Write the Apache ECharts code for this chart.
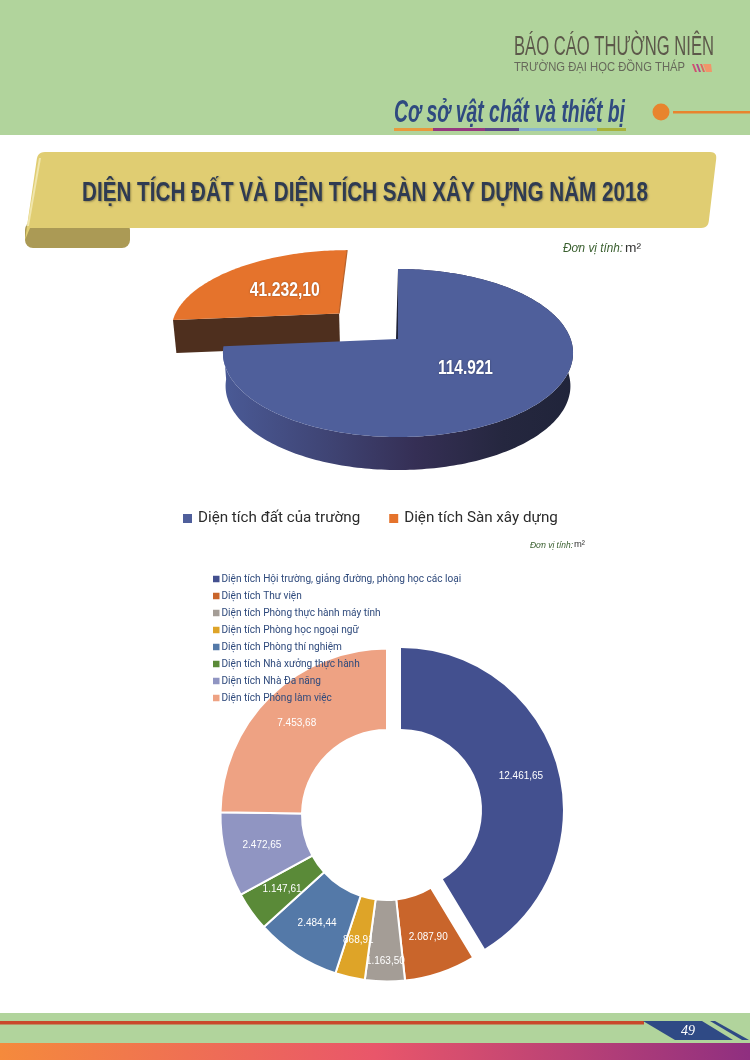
<!DOCTYPE html>
<html><head><meta charset="utf-8">
<style>html,body{margin:0;padding:0;background:#fff}#c{width:750px;height:1060px}</style>
<script src="https://cdn.jsdelivr.net/npm/echarts@6/dist/echarts.min.js"></script>
</head><body><div id="c"></div>
<script>
const landNames = ['Diện tích đất của trường', 'Diện tích Sàn xây dựng'];
const landValues = [114921, 41232.10];
const landLabels = ['114.921', '41.232,10'];
const landColors = ['#4f5f9b', '#e5732c'];

const roomNames = ['Diện tích Hội trường, giảng đường, phòng học các loại', 'Diện tích Thư viện', 'Diện tích Phòng thực hành máy tính', 'Diện tích Phòng học ngoại ngữ', 'Diện tích Phòng thí nghiệm', 'Diện tích Nhà xưởng thực hành', 'Diện tích Nhà Đa năng', 'Diện tích Phòng làm việc'];
const roomValues = [12461.65, 2087.90, 1163.50, 868.91, 2484.44, 1147.61, 2472.65, 7453.68];
const roomLabels = ['12.461,65', '2.087,90', '1.163,50', '868,91', '2.484,44', '1.147,61', '2.472,65', '7.453,68'];
const roomColors = ['#43508f', '#c9652b', '#a49d96', '#dea428', '#5479a8', '#5a8a38', '#9095c2', '#eea283'];

const SANS = '"Liberation Sans",sans-serif';
const total = landValues.reduce((a, b) => a + b, 0);

const mctx = document.createElement('canvas').getContext('2d');
function fitScale(t, font, width) { mctx.font = font; return width / mctx.measureText(t).width; }

// perspective projection of a tilted unit disc
const P = {x0: 398, y0: 339, A: 172.6, B: 81.67, k: 1 / 6, depth: 33, shrink: 0.985};
function proj(X, Z, low) {
  const w = 1 + P.k * Z;
  const s = low ? P.shrink : 1;
  return [P.x0 + s * P.A * X / w, P.y0 - P.B * Z / w + (low ? P.depth : 0)];
}
function arc(a0, a1, ox, oz, low) {
  const pts = [];
  const n = Math.max(2, Math.round((a1 - a0) / 0.02));
  for (let i = 0; i <= n; i++) {
    const a = a0 + (a1 - a0) * i / n;
    pts.push(proj(ox + Math.sin(a), oz + Math.cos(a), low));
  }
  return pts;
}
function startOf(i) {
  let s = 0;
  for (let j = 0; j < i; j++) s += landValues[j];
  return s / total * Math.PI * 2;
}
const labelW = [55, 70];
function sliceRender(i, ex) {
  return function (params, api) {
    const a0 = startOf(i), a1 = a0 + api.value(0) / total * Math.PI * 2, mid = (a0 + a1) / 2;
    const ox = ex * Math.sin(mid), oz = ex * Math.cos(mid);
    const top = arc(a0, a1, ox, oz, false);
    const apex = proj(ox, oz, false), apexLow = proj(ox, oz, true);
    const children = [];
    if (i === 0) {
      const lowArc = arc(a0, a1, ox, oz, true).reverse();
      children.push({type: 'polygon', shape: {points: top.concat(lowArc)}, style: {
        fill: new echarts.graphic.LinearGradient(0, 0, 1, 0, [
          {offset: 0, color: '#4a5a96'}, {offset: 0.3, color: '#3f4474'}, {offset: 0.55, color: '#352f55'},
          {offset: 0.8, color: '#25273f'}, {offset: 1, color: '#20243a'}])}});
    } else {
      const left = top[0], leftLow = proj(ox + Math.sin(a0), oz + Math.cos(a0), true);
      children.push({type: 'polygon', shape: {points: [left, apex, apexLow, leftLow]}, style: {fill: '#4e2f1e'}});
    }
    children.push({type: 'polygon', shape: {points: [apex].concat(top)}, style: {fill: landColors[i]}});
    if (i === 0) {
      const b = top[0];
      children.push({type: 'polygon', shape: {points: [b, apex, [apex[0] - 2, apex[1]]]}, style: {fill: '#1f2338'}});
    } else {
      const e = top[top.length - 1];
      children.push({type: 'line', shape: {x1: e[0], y1: e[1], x2: apex[0], y2: apex[1]}, style: {stroke: '#b8622c', lineWidth: 1.2}});
    }
    const lx = ox + 0.5 * Math.sin(mid), lz = oz + 0.5 * Math.cos(mid), lp = proj(lx, lz, false);
    const font = 'bold 21px ' + SANS;
    children.push({type: 'text', x: lp[0], y: lp[1], scaleX: fitScale(landLabels[i], font, labelW[i]), style: {text: landLabels[i], x: 0, y: 0, align: 'center', verticalAlign: 'middle',
      fill: '#fff', font, textShadowColor: 'rgba(0,0,0,.35)', textShadowBlur: 2}});
    return {type: 'group', children};
  };
}
function rect(x, y, w, h, fill, z, r) {
  return {type: 'rect', silent: true, z: z || 0, shape: {x, y, width: w, height: h, r: r || 0}, style: {fill}};
}
function poly(points, fill, z) {
  return {type: 'polygon', silent: true, z: z || 0, shape: {points}, style: {fill}};
}
function text(t, x, y, font, fill, width, extra) {
  return {type: 'text', silent: true, z: 1, x, y, scaleX: width ? fitScale(t, font, width) : 1,
    style: Object.assign({text: t, x: 0, y: 0, font, fill, verticalAlign: 'middle'}, extra || {})};
}
function rounded(pts, r) {
  const out = [];
  pts.forEach((p, i) => {
    const a = pts[(i + pts.length - 1) % pts.length], b = pts[(i + 1) % pts.length];
    const la = Math.hypot(a[0] - p[0], a[1] - p[1]), lb = Math.hypot(b[0] - p[0], b[1] - p[1]);
    const s = [p[0] + (a[0] - p[0]) * r / la, p[1] + (a[1] - p[1]) * r / la];
    const e = [p[0] + (b[0] - p[0]) * r / lb, p[1] + (b[1] - p[1]) * r / lb];
    for (let t = 0; t <= 6; t++) {
      const u = t / 6, v = 1 - u;
      out.push([v * v * s[0] + 2 * v * u * p[0] + u * u * e[0], v * v * s[1] + 2 * v * u * p[1] + u * u * e[1]]);
    }
  });
  return out;
}
const TITLE = 'DIỆN TÍCH ĐẤT VÀ DIỆN TÍCH SÀN XÂY DỰNG NĂM 2018';
const decor = [
  rect(0, 0, 750, 135, '#b1d49c'),
  text('BÁO CÁO THƯỜNG NIÊN', 514, 48, '27px ' + SANS, '#5c584a', 200),
  text('TRƯỜNG ĐẠI HỌC ĐỒNG THÁP', 514, 68, '12px ' + SANS, '#66685a', 171),
  poly([[692,64],[694,64],[697,72],[695,72]], '#d2506f'),
  poly([[696,64],[698,64],[701,72],[699,72]], '#b0478c'),
  poly([[700,64],[702,64],[705,72],[703,72]], '#e0645f'),
  poly([[703,64],[711,64],[712,72],[706,72]], '#f0966a'),
  text('Cơ sở vật chất và thiết bị', 394, 113, 'italic bold 31px ' + SANS, '#2f4a80', 231),
  rect(394, 128, 39, 3, '#e89a3c'), rect(433, 128, 52, 3, '#95397f'), rect(485, 128, 34, 3, '#5a4a8a'),
  rect(519, 128, 78, 3, '#8ab8cf'), rect(597, 128, 29, 3, '#a8b33c'),
  {type: 'circle', silent: true, shape: {cx: 661, cy: 112, r: 8.5}, style: {fill: '#e8842e'}},
  rect(673, 111, 77, 2.5, '#e8842e'),
  // ribbon
  rect(25, 222, 105, 26, '#ab9a55', 0, 8),
  poly(rounded([[38,152],[717,152],[708,228],[25,228]], 7).slice(0, 21).concat([[130,228],[30,228],[25,240]]), '#e0cd72', 0),
  poly([[39,158],[41,158],[29,226],[27,226]], '#f0e6ac', 0),
  text(TITLE, 82, 193, 'bold 28px ' + SANS, '#2f3b52', 566, {textShadowColor: 'rgba(0,0,0,.3)', textShadowBlur: 2, textShadowOffsetX: 1, textShadowOffsetY: 1}),
  text('Đơn vị tính:', 563, 248, 'italic 13px ' + SANS, '#3b6030', 60),
  text('m²', 625, 248, '13px ' + SANS, '#333', 16),
  text('Đơn vị tính:', 530, 545, 'italic 9px ' + SANS, '#3b6030', 43),
  text('m²', 574, 545, '9px ' + SANS, '#333', 11),
  // footer
  rect(0, 1013, 750, 30, '#b1d49c'),
  rect(0, 1021, 644, 3.5, '#c9482a'),
  poly([[643,1021],[702,1021],[733,1040],[675,1040]], '#2f4a85'),
  poly([[710,1021],[715,1021],[749,1040],[742,1040]], '#2f4a85'),
  text('49', 688, 1031, 'italic 14px "Liberation Serif",serif', '#fff', 0, {align: 'center'}),
  {type: 'rect', silent: true, shape: {x: 0, y: 1043, width: 750, height: 17}, style: {fill: new echarts.graphic.LinearGradient(0, 0, 1, 0, [
    {offset: 0, color: '#f58a3c'}, {offset: 0.5, color: '#e9566a'}, {offset: 1, color: '#8f2f80'}])}}
];
const restValue = roomValues.slice(1).reduce((a, b) => a + b, 0);
const chart = echarts.init(document.getElementById('c'), null, {renderer: 'canvas'});
chart.setOption({
  animation: false,
  backgroundColor: '#fff',
  legend: [
    {data: landNames, left: 183, top: 511, itemWidth: 9, itemHeight: 9, itemGap: 29, icon: 'rect', selectedMode: false, padding: 0,
      textStyle: {color: '#2b2b2b', fontFamily: 'Roboto,' + SANS, fontSize: 15.2, padding: [0, 0, 0, 1]}},
    {data: roomNames, orient: 'vertical', left: 213, top: 572, itemWidth: 6.5, itemHeight: 6.5, itemGap: 3, icon: 'rect', selectedMode: false, padding: 0,
      itemStyle: {borderWidth: 0},
      textStyle: {color: '#2f4a7c', fontFamily: 'Roboto,' + SANS, fontSize: 10.1, height: 14, lineHeight: 14, padding: [0, 0, 0, -3]}}
  ],
  graphic: decor,
  series: [
    {type: 'custom', name: landNames[1], coordinateSystem: 'none', color: landColors[1], itemStyle: {color: landColors[1]}, data: [[landValues[1]]], renderItem: sliceRender(1, 0.488), silent: true, z: 2},
    {type: 'custom', name: landNames[0], coordinateSystem: 'none', color: landColors[0], itemStyle: {color: landColors[0]}, data: [[landValues[0]]], renderItem: sliceRender(0, 0), silent: true, z: 3},
    // the exploded first slice, slightly smaller as in the reference
    {type: 'pie', center: [401, 810], radius: [81, 162], startAngle: 90, silent: true, avoidLabelOverlap: false, z: 2,
      itemStyle: {borderWidth: 0},
      label: {show: true, position: 'inside', color: '#fff', fontFamily: SANS, fontSize: 10, formatter: () => roomLabels[0]},
      labelLine: {show: false},
      data: [
        {name: roomNames[0], value: roomValues[0], itemStyle: {color: roomColors[0]}},
        {name: 'rest', value: restValue, itemStyle: {color: 'rgba(0,0,0,0)'}, label: {show: false}}
      ]},
    {type: 'pie', center: [387, 815], radius: [85, 166.5], startAngle: 90, silent: true, avoidLabelOverlap: false, z: 2,
      itemStyle: {borderColor: '#fff', borderWidth: 2},
      label: {show: true, position: 'inside', color: '#fff', fontFamily: SANS, fontSize: 10, formatter: p => roomLabels[p.dataIndex]},
      labelLine: {show: false},
      labelLayout: p => (p.dataIndex === 2 ? {dy: 18} : {}),
      data: roomNames.map((name, i) => (i === 0
        ? {name, value: roomValues[i], itemStyle: {color: 'rgba(0,0,0,0)', borderWidth: 0}, label: {show: false}}
        : {name, value: roomValues[i], itemStyle: {color: roomColors[i]}}))}
  ]
});
</script></body></html>
